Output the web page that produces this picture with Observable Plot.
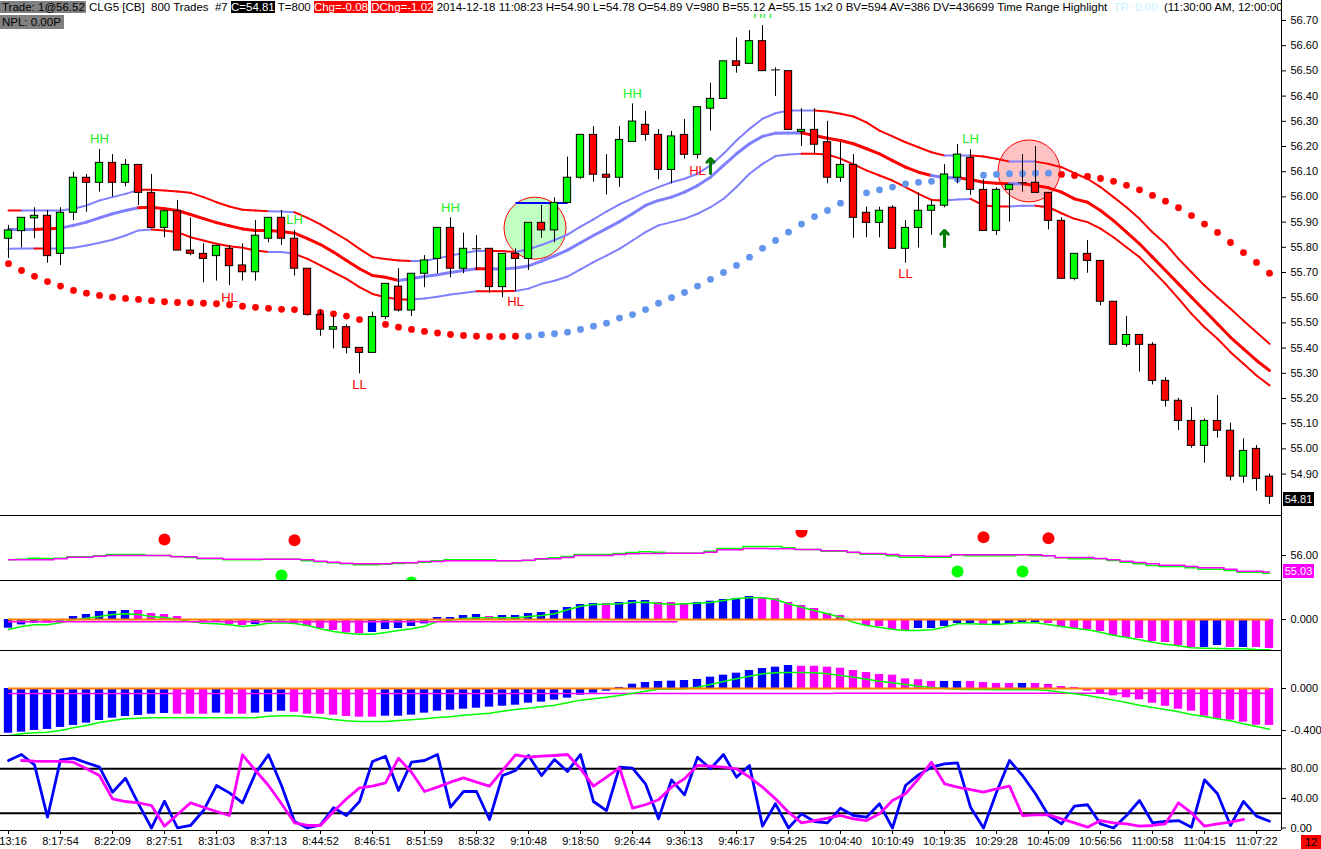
<!DOCTYPE html>
<html><head><meta charset="utf-8">
<script src="https://cdn.jsdelivr.net/npm/d3@7"></script>
<script src="https://cdn.jsdelivr.net/npm/@observablehq/plot@0.6"></script>
<style>
body{margin:0;background:#fff;font-family:"Liberation Sans",Arial,sans-serif;}
#wrap{position:relative;width:1321px;height:849px;overflow:hidden;background:#fff}
.hdr{position:absolute;left:0;top:0;width:1281px;height:14px;background:#fff;font-size:11.5px;line-height:14px;white-space:nowrap;overflow:hidden;color:#000}
.box{position:absolute;font-size:11px;line-height:14px;height:14px;text-align:center}
</style></head>
<body><div id="wrap"></div>
<script>
// ---------- candles ----------
const open  = [55.834,55.864,55.915,55.925,55.774,55.937,56.076,56.056,56.135,56.056,
 56.127,56.016,55.877,55.943,55.787,55.774,55.765,55.794,55.728,55.701,
 55.834,55.917,55.834,55.715,55.532,55.473,55.483,55.401,55.381,55.523,
 55.644,55.549,55.695,55.754,55.877,55.715,55.794,55.794,55.642,55.774,
 55.754,55.897,55.867,55.976,56.076,56.246,56.088,56.076,56.218,56.286,
 56.246,56.107,56.246,56.167,56.350,56.389,56.538,56.528,56.618,56.504,
 56.499,56.258,56.266,56.217,56.076,56.127,55.937,55.897,55.957,55.794,
 55.877,55.945,55.965,56.076,56.155,56.028,55.865,56.028,56.056,56.056,
 56.016,55.905,55.675,55.774,55.746,55.584,55.413,55.452,55.413,55.270,
 55.191,55.111,55.012,55.111,55.072,54.890,55.000,54.890];
const high  = [55.887,55.917,55.957,55.946,55.957,56.098,56.089,56.188,56.168,56.148,
 56.127,56.089,55.943,55.986,55.917,55.814,55.806,55.807,55.814,55.906,
 55.917,55.946,55.867,55.715,55.549,55.529,55.492,55.401,55.543,55.655,
 55.715,55.695,55.767,55.877,55.917,55.856,55.846,55.794,55.774,55.794,
 55.897,55.966,55.996,56.158,56.246,56.279,56.168,56.279,56.369,56.339,
 56.267,56.260,56.307,56.356,56.451,56.538,56.631,56.660,56.680,56.512,
 56.499,56.350,56.350,56.300,56.217,56.168,55.959,55.959,55.965,55.906,
 56.016,55.986,56.128,56.208,56.187,56.068,56.036,56.048,56.168,56.200,
 56.016,55.917,55.774,55.827,55.746,55.584,55.525,55.452,55.422,55.283,
 55.201,55.164,55.119,55.212,55.102,55.040,55.013,54.900];
const low   = [55.756,55.798,55.834,55.737,55.728,55.906,55.939,56.019,56.000,56.040,
 55.966,55.877,55.838,55.787,55.767,55.659,55.666,55.648,55.666,55.666,
 55.818,55.807,55.686,55.532,55.447,55.397,55.377,55.298,55.381,55.513,
 55.543,55.525,55.640,55.695,55.679,55.695,55.708,55.618,55.600,55.625,
 55.708,55.836,55.818,55.976,56.070,56.058,56.008,56.038,56.218,56.221,
 56.068,56.052,56.150,56.150,56.261,56.389,56.491,56.528,56.499,56.398,
 56.266,56.200,56.171,56.052,56.058,55.836,55.838,55.838,55.794,55.737,
 55.797,55.848,55.957,56.052,56.006,55.865,55.847,55.900,56.019,56.016,
 55.869,55.675,55.667,55.697,55.568,55.413,55.404,55.305,55.254,55.166,
 55.073,55.003,54.943,55.043,54.873,54.864,54.832,54.780];
const close = [55.867,55.917,55.925,55.765,55.937,56.076,56.056,56.135,56.056,56.127,
 56.016,55.877,55.943,55.787,55.774,55.754,55.806,55.725,55.701,55.846,
 55.917,55.834,55.715,55.532,55.473,55.483,55.401,55.381,55.523,55.655,
 55.549,55.695,55.748,55.877,55.715,55.794,55.794,55.642,55.774,55.754,
 55.897,55.867,55.976,56.076,56.246,56.088,56.076,56.226,56.299,56.246,
 56.107,56.240,56.167,56.356,56.389,56.538,56.520,56.618,56.499,56.504,
 56.266,56.266,56.207,56.076,56.127,55.917,55.897,55.945,55.794,55.877,
 55.945,55.965,56.089,56.168,56.028,55.865,56.028,56.048,56.056,56.016,
 55.905,55.675,55.774,55.746,55.584,55.413,55.452,55.413,55.270,55.191,
 55.111,55.012,55.111,55.072,54.890,54.992,54.881,54.810];

// ---------- envelope bands ----------
const bandUpper = [55.946,55.946,55.946,55.946,55.946,55.953,55.966,55.986,55.999,56.012,
 56.028,56.028,56.025,56.021,56.016,55.999,55.979,55.962,55.949,55.946,
 55.943,55.942,55.939,55.917,55.891,55.860,55.830,55.794,55.761,55.754,
 55.748,55.746,55.746,55.756,55.767,55.777,55.785,55.785,55.785,55.781,
 55.792,55.809,55.829,55.850,55.882,55.911,55.942,55.970,55.994,56.019,
 56.039,56.058,56.072,56.092,56.125,56.171,56.224,56.270,56.310,56.332,
 56.343,56.343,56.343,56.339,56.330,56.319,56.296,56.263,56.240,56.217,
 56.197,56.177,56.164,56.164,56.164,56.160,56.151,56.140,56.140,56.140,
 56.131,56.118,56.094,56.072,56.039,55.999,55.959,55.913,55.860,55.814,
 55.754,55.701,55.648,55.602,55.556,55.509,55.463,55.417];
const bandMiddle = [55.871,55.871,55.871,55.874,55.876,55.887,55.900,55.917,55.933,55.946,
 55.957,55.959,55.953,55.946,55.930,55.914,55.898,55.885,55.873,55.867,
 55.867,55.863,55.856,55.834,55.811,55.781,55.748,55.715,55.688,55.681,
 55.668,55.676,55.684,55.691,55.700,55.708,55.715,55.715,55.714,55.718,
 55.726,55.745,55.766,55.789,55.818,55.847,55.874,55.902,55.933,55.966,
 55.986,55.999,56.019,56.045,56.078,56.125,56.171,56.211,56.240,56.253,
 56.254,56.254,56.244,56.233,56.224,56.211,56.191,56.171,56.144,56.118,
 56.098,56.085,56.076,56.076,56.069,56.058,56.054,56.052,56.052,56.045,
 56.036,56.019,55.992,55.979,55.946,55.906,55.860,55.814,55.761,55.708,
 55.655,55.602,55.549,55.496,55.443,55.397,55.351,55.311];
const bandLower = [55.794,55.795,55.795,55.795,55.795,55.798,55.807,55.818,55.830,55.847,
 55.867,55.871,55.867,55.860,55.840,55.827,55.814,55.804,55.798,55.787,
 55.781,55.781,55.774,55.754,55.728,55.701,55.675,55.642,55.615,55.602,
 55.593,55.593,55.597,55.604,55.613,55.619,55.626,55.626,55.626,55.627,
 55.636,55.655,55.667,55.684,55.712,55.741,55.767,55.794,55.827,55.860,
 55.887,55.900,55.913,55.933,55.959,55.992,56.039,56.092,56.131,56.162,
 56.168,56.171,56.171,56.168,56.152,56.129,56.105,56.085,56.065,56.039,
 56.012,55.988,55.986,55.990,55.992,55.966,55.962,55.962,55.965,55.965,
 55.959,55.935,55.913,55.900,55.874,55.840,55.800,55.761,55.708,55.655,
 55.596,55.536,55.483,55.437,55.384,55.338,55.291,55.252];
const upperRuns  = [["r",1],["b",9],["r",10],["b",2],["r",9],["b",6],["r",2],["b",23],["r",10],["b",2],["r",3],["b",2],["r",18]];
const middleRuns = [["b",2],["r",2],["b",6],["r",20],["b",6],["r",1],["b",24],["r",10],["b",2],["r",4],["b",1],["r",19]];
const lowerRuns  = [["b",2],["r",1],["b",8],["r",9],["b",2],["r",9],["b",5],["r",3],["b",22],["r",11],["b",2],["r",3],["b",2],["r",18]];

// ---------- trailing stop dots ----------
const sarValues = [55.735,55.708,55.685,55.664,55.646,55.629,55.618,55.609,55.602,55.597,
 55.593,55.588,55.584,55.581,55.580,55.578,55.576,55.572,55.566,55.562,
 55.558,55.554,55.553,55.543,55.542,55.536,55.527,55.513,55.504,55.494,
 55.483,55.474,55.466,55.460,55.454,55.450,55.447,55.446,55.446,55.447,
 55.447,55.453,55.457,55.463,55.474,55.487,55.499,55.519,55.533,55.553,
 55.578,55.600,55.621,55.646,55.673,55.700,55.728,55.761,55.796,55.827,
 55.860,55.892,55.922,55.946,55.975,55.994,56.016,56.028,56.039,56.052,
 56.058,56.062,56.067,56.070,56.073,56.086,56.089,56.092,56.092,56.094,
 56.094,56.089,56.085,56.081,56.073,56.062,56.046,56.028,56.006,55.983,
 55.957,55.926,55.892,55.859,55.819,55.779,55.740,55.697];
const sarRuns = [["r",40],["b",41],["r",17]];

// ---------- annotations ----------
const swingIdx   = [7, 17, 22, 27, 34, 39, 48, 53, 58, 69, 74];
const swingPrice = [56.232,55.601,55.910,55.256,55.956,55.582,56.410,56.105,56.727,55.696,56.232];
const swingText  = ["HH","HL","LH","LL","HH","HL","HH","HL","HH","LL","LH"];
const arrowIdx = [54, 72];
const arrowFrom = [56.093, 55.803];
const arrowTo = [56.152, 55.867];
const zoneIdx = [40.5, 78.5];
const zonePrice = [55.876, 56.103];
const zoneFill = ["#c2ffc2", "#ffc2c2"];
const breakFrom = [39], breakTo = [43], breakPrice = [55.976];
const priceTicks = [54.9,55.0,55.1,55.2,55.3,55.4,55.5,55.6,55.7,55.8,55.9,56.0,56.1,56.2,56.3,56.4,56.5,56.6,56.7];

// ---------- panel 2 ----------
const p2Magenta = [55.747,55.747,55.747,55.747,55.806,55.900,55.900,55.959,56.000,56.000,
 56.000,56.000,56.000,55.924,55.924,55.841,55.841,55.782,55.782,55.782,
 55.782,55.782,55.782,55.747,55.665,55.606,55.547,55.512,55.512,55.512,
 55.571,55.571,55.647,55.647,55.688,55.688,55.688,55.688,55.688,55.688,
 55.723,55.806,55.806,55.882,56.000,56.000,56.000,56.059,56.100,56.118,
 56.118,56.135,56.135,56.135,56.194,56.335,56.335,56.412,56.412,56.394,
 56.394,56.353,56.353,56.276,56.276,56.194,56.118,56.118,56.059,55.982,
 55.982,55.959,55.959,56.041,56.041,56.041,56.041,56.041,56.041,56.041,
 55.982,55.882,55.882,55.882,55.823,55.747,55.665,55.588,55.512,55.429,
 55.429,55.353,55.276,55.276,55.194,55.076,55.076,55.030];
const p2Green = [55.747,55.782,55.841,55.823,55.841,55.924,55.924,55.982,56.059,56.059,
 56.059,56.000,56.000,55.941,55.882,55.806,55.806,55.747,55.747,55.747,
 55.782,55.782,55.782,55.688,55.629,55.571,55.512,55.453,55.453,55.488,
 55.529,55.571,55.606,55.688,55.747,55.747,55.747,55.747,55.688,55.688,
 55.706,55.782,55.865,55.941,56.059,56.059,56.059,56.118,56.176,56.218,
 56.194,56.135,56.135,56.135,56.253,56.412,56.412,56.529,56.529,56.529,
 56.453,56.353,56.353,56.253,56.253,56.176,56.076,56.076,55.982,55.900,
 55.900,55.900,55.900,56.041,55.982,55.982,55.982,55.982,56.041,55.982,
 55.982,55.865,55.806,55.806,55.806,55.706,55.606,55.512,55.412,55.353,
 55.353,55.276,55.194,55.194,55.118,55.018,55.018,54.959];
const p2RedIdx = [12, 22, 61, 75, 80];
const p2RedVal = [56.941, 56.900, 57.394, 57.076, 57.018];
const p2GreenIdx = [21, 31, 73, 78];
const p2GreenVal = [54.824, 54.412, 55.059, 55.059];

// ---------- panel 3 ----------
const p3Hist = [-0.0435,-0.027,-0.018,-0.018,-0.008,0.015,0.025,0.04,0.04,0.045,
 0.045,0.03,0.025,0.015,-0.003,-0.013,-0.013,-0.025,-0.03,-0.025,
 -0.013,-0.008,-0.022,-0.035,-0.045,-0.055,-0.067,-0.072,-0.065,-0.05,
 -0.045,-0.035,-0.022,0.01,0.01,0.02,0.025,0.015,0.02,0.02,
 0.03,0.035,0.045,0.06,0.075,0.08,0.08,0.085,0.095,0.095,
 0.085,0.085,0.08,0.085,0.0915,0.1,0.105,0.115,0.1085,0.1035,
 0.085,0.07,0.055,0.03,0.02,-0.002,-0.03,-0.035,-0.05,-0.055,
 -0.045,-0.045,-0.035,-0.02,-0.02,-0.03,-0.025,-0.02,-0.015,-0.015,
 -0.02,-0.04,-0.045,-0.05,-0.06,-0.08,-0.09,-0.095,-0.11,-0.115,
 -0.13,-0.14,-0.14,-0.13,-0.14,-0.14,-0.14,-0.145];
const p3Colors = "bbbmbbbbbbmmmmmmmmmbbbmmmmmmbbbbbbbbbmbbbbbbbbmbbbmmmbbbbbmmmmmmmmmmmmbbbbbmbbbbmmmmmmmmmmmmbbmbmm";
const p3Line = [-0.05,-0.035,-0.0265,-0.0265,-0.0165,-0.0015,0.0065,0.015,0.025,0.0285,
 0.025,0.015,0.01,0.0015,-0.01,-0.0185,-0.0215,-0.0265,-0.035,-0.0285,
 -0.0185,-0.0165,-0.02,-0.03,-0.0465,-0.06,-0.0685,-0.0735,-0.0735,-0.065,
 -0.055,-0.0465,-0.0335,-0.01,-0.005,0.005,0.0085,0.0085,0.0085,0.0085,
 0.015,0.02,0.0285,0.0485,0.0665,0.075,0.0765,0.0785,0.085,0.0865,
 0.08,0.075,0.0785,0.0815,0.085,0.095,0.105,0.1085,0.1085,0.1,
 0.0785,0.0615,0.045,0.0285,0.0115,-0.0135,-0.03,-0.0385,-0.0485,-0.055,
 -0.055,-0.0515,-0.0385,-0.0215,-0.0215,-0.0235,-0.025,-0.02,-0.015,-0.0165,
 -0.025,-0.035,-0.0435,-0.0515,-0.0635,-0.0785,-0.09,-0.1015,-0.1135,-0.1235,
 -0.1315,-0.1415,-0.1435,-0.145,-0.1465,-0.1465,-0.15,-0.1515];
const p3SigFrom = [0], p3SigTo = [51.5], p3SigVal = [-0.011];

// ---------- panel 4 ----------
const p4Hist = [-0.426,-0.416,-0.4,-0.39,-0.371,-0.352,-0.33,-0.305,-0.283,-0.267,
 -0.257,-0.245,-0.238,-0.245,-0.245,-0.245,-0.235,-0.245,-0.245,-0.235,
 -0.226,-0.216,-0.226,-0.245,-0.245,-0.254,-0.267,-0.273,-0.273,-0.264,
 -0.264,-0.254,-0.235,-0.216,-0.207,-0.197,-0.188,-0.178,-0.169,-0.159,
 -0.14,-0.13,-0.111,-0.092,-0.064,-0.045,-0.026,0.01,0.041,0.057,
 0.067,0.07,0.076,0.086,0.108,0.127,0.146,0.171,0.19,0.203,
 0.219,0.212,0.212,0.203,0.193,0.171,0.152,0.133,0.127,0.092,
 0.083,0.067,0.067,0.067,0.067,0.057,0.048,0.048,0.048,0.048,
 0.038,0.019,0.01,-0.026,-0.05,-0.07,-0.089,-0.108,-0.14,-0.169,
 -0.197,-0.216,-0.264,-0.292,-0.302,-0.321,-0.35,-0.352];
const p4Runs = [["b",13],["m",3],["b",1],["m",2],["b",3],["m",7],["b",32],["m",11],["b",2],["m",4],["b",1],["m",19]];
const p4Line = [-0.45,-0.431,-0.422,-0.416,-0.4,-0.374,-0.352,-0.324,-0.305,-0.289,
 -0.283,-0.279,-0.279,-0.279,-0.279,-0.279,-0.279,-0.279,-0.279,-0.279,
 -0.264,-0.26,-0.26,-0.27,-0.279,-0.295,-0.308,-0.314,-0.314,-0.314,
 -0.305,-0.298,-0.289,-0.276,-0.27,-0.254,-0.245,-0.235,-0.216,-0.2,
 -0.188,-0.174,-0.159,-0.136,-0.111,-0.098,-0.083,-0.067,-0.045,-0.026,
 -0.007,-0.007,-0.003,0.012,0.038,0.067,0.092,0.117,0.14,0.15,
 0.152,0.152,0.15,0.14,0.124,0.108,0.089,0.07,0.054,0.038,
 0.022,0.01,0,-0.007,-0.01,-0.01,-0.012,-0.012,-0.012,-0.012,
 -0.019,-0.035,-0.05,-0.067,-0.089,-0.111,-0.133,-0.159,-0.181,-0.2,
 -0.222,-0.248,-0.267,-0.289,-0.308,-0.336,-0.362,-0.388];
const p4SigFrom = [0, 63.5], p4SigTo = [63.5, 97], p4SigVal = [-0.048, -0.045];

// ---------- panel 5 (stochastic) ----------
const stochK = [91.2,99.3,85.4,14.6,92.2,94.4,88.1,82.2,48.4,67.3,
 32.7,0,36.2,0,3.4,23.6,57.4,47.5,34,74.1,
 98.9,57.4,8.8,0,4.3,27.3,16.9,35.8,89.9,97,
 50.7,88.9,91.2,99.3,28.1,49.3,49.3,11.5,70.9,77.7,
 98,70.9,92.6,76.4,99.3,35.8,23.6,82.2,80.8,59.7,
 12.4,65.1,44.8,95.7,80,99.3,68.7,84.5,2.5,32.7,
 0,19.1,8.8,7,26.8,16.9,14.6,32.7,0,57.4,
 71.8,82.2,86.7,88.1,28.1,0,48.4,91.2,70.9,46.2,
 16.9,5.6,29.5,31.4,5.6,0,16.9,37.2,7,8.8,
 10.1,1.1,65.1,46.2,3.4,35.8,16,9.2];
const stochD = [null,91.2,90.3,89.9,89.9,88.9,80,70.9,39.4,35.8,
 34,30.4,2.5,18.2,34,28.1,22.3,16.9,98.9,77.7,
 57.4,32.7,7,3.4,3.4,22.3,39.4,54.3,56.5,61,
 94.4,75.4,49.3,55.2,61.9,67.8,61.9,56.5,77.7,98.9,
 95.7,97,98,99.3,80,56.5,68.7,81.4,26.8,31.4,
 38.1,55.2,66.5,84.5,83.5,82.2,80,68.7,55.2,39.4,
 21.4,7,10.1,13.2,16.9,12.4,10.1,19.1,37.2,46.2,
 66.5,88.9,59.7,55.2,52,48.4,53,56.5,16.9,17.8,
 17.8,12.4,7,1.1,10.1,7,5.6,2.5,3.4,5.6,
 34,20.5,2.5,5.6,7.8,11.5,null,null];
const stochLevels = [80, 20];
const stochTicks = [80, 40, 0];
const timeLabels = ["8:13:16","8:17:54","8:22:09","8:27:51","8:31:03","8:37:13","8:44:52","8:46:51","8:51:59","8:58:32","9:10:48","9:18:50","9:26:44","9:36:13","9:46:17","9:54:25","10:04:40","10:10:49","10:19:35","10:29:28","10:45:09","10:56:56","11:00:58","11:04:15","11:07:22"];

// ---------- helpers ----------
const expand = runs => runs.flatMap(([c, n]) => Array.from({length: n}, () => c));
const BAND = {b: "#8080ff", r: "#ff0000"};
const HIST = {b: "#0000ff", m: "#ff00ff"};
const segs = (vals, cols) => vals.slice(0, -1).map((v, k) => ({x1: k, x2: k + 1, y1: v, y2: vals[k + 1], c: BAND[cols[k]]}));
const idx = close.map((_, i) => i);
const candles = idx.map(i => ({i, o: open[i], h: high[i], l: low[i], c: close[i]}));
const X = {domain: [0, 97], range: [8, 1269], axis: null, label: null};
const STYLE = "background:transparent;font-family:'Liberation Sans',Arial,sans-serif;font-size:11px;overflow:visible;color:#000";
const wrap = document.getElementById("wrap");
function place(svg, top) {
  const d = document.createElement("div");
  d.style.cssText = `position:absolute;left:0;top:${top}px;width:1321px;`;
  d.appendChild(svg); wrap.appendChild(d);
}
const base = {width: 1321, marginLeft: 0, marginRight: 40, x: X, color: {type: "identity"}, style: STYLE};
const yAxis = (ticks, fmt) => Plot.axisY({anchor: "right", ticks, tickFormat: fmt, tickSize: 4, fontSize: 11, label: null});

// ---------- main price panel ----------
const sarCols = expand(sarRuns);
place(Plot.plot({
  ...base, height: 515, marginTop: 0, marginBottom: 0,
  y: {domain: [54.7, 56.7], range: [524, 20], axis: null, label: null},
  marks: [
    Plot.dot(zoneIdx.map((x, k) => ({x, p: zonePrice[k], f: zoneFill[k]})), {x: "x", y: "p", r: 31, fill: "f", stroke: "#ff0000", strokeWidth: 1}),
    Plot.link(segs(bandUpper, expand(upperRuns)), {x1: "x1", x2: "x2", y1: "y1", y2: "y2", stroke: "c", strokeWidth: 2, strokeLinecap: "round"}),
    Plot.link(segs(bandLower, expand(lowerRuns)), {x1: "x1", x2: "x2", y1: "y1", y2: "y2", stroke: "c", strokeWidth: 2, strokeLinecap: "round"}),
    Plot.link(segs(bandMiddle, expand(middleRuns)), {x1: "x1", x2: "x2", y1: "y1", y2: "y2", stroke: "c", strokeWidth: 3, strokeLinecap: "round"}),
    Plot.dot(idx, {x: i => i, y: i => sarValues[i], r: 3.4, fill: i => sarCols[i] === "r" ? "#ff0000" : "#6495ed"}),
    Plot.link(breakFrom.map((f, k) => ({f, t: breakTo[k], p: breakPrice[k]})), {x1: "f", x2: "t", y1: "p", y2: "p", stroke: "#0000ff", strokeWidth: 2}),
    Plot.ruleX(candles, {x: "i", y1: "l", y2: "h", stroke: "#000", strokeWidth: 1}),
    Plot.rect(candles.filter(d => d.o !== d.c), {x1: d => d.i - 0.28, x2: d => d.i + 0.28, y1: "o", y2: "c", fill: d => d.c > d.o ? "#00ff00" : "#ff0000", stroke: "#000", strokeWidth: 1}),
    Plot.link(candles.filter(d => d.o === d.c), {x1: d => d.i - 0.35, x2: d => d.i + 0.35, y1: "o", y2: "o", stroke: "#000", strokeWidth: 1}),
    Plot.arrow(arrowIdx.map((x, k) => ({x, a: arrowFrom[k], b: arrowTo[k]})), {x1: "x", x2: "x", y1: "a", y2: "b", stroke: "#007a00", strokeWidth: 3, headLength: 8, headAngle: 90}),
    Plot.text(swingIdx.map((x, k) => ({x, p: swingPrice[k], t: swingText[k]})), {x: "x", y: "p", text: "t", fontSize: 13, fill: d => d.t.endsWith("H") ? "#22f022" : "#ff0000"}),
    yAxis(priceTicks, d => d.toFixed(2))
  ]
}), 0);

// ---------- panel 2 ----------
place(Plot.plot({
  ...base, height: 65, marginTop: 15, marginBottom: 0,
  y: {domain: [54.529, 58.353], range: [65, 0], axis: null, label: null},
  marks: [
    Plot.line(idx, {x: i => i, y: i => p2Green[i], curve: "step", stroke: "#00ff00", strokeWidth: 1.5}),
    Plot.line(idx, {x: i => i, y: i => p2Magenta[i], curve: "step", stroke: "#ff00ff", strokeWidth: 1.5}),
    Plot.dot(p2RedIdx.map((x, k) => ({x, v: p2RedVal[k]})), {x: "x", y: "v", r: 6, fill: "#ff0000", clip: true}),
    Plot.dot(p2GreenIdx.map((x, k) => ({x, v: p2GreenVal[k]})), {x: "x", y: "v", r: 6, fill: "#00ff00", clip: true}),
    yAxis([56], d => d.toFixed(2))
  ]
}), 515);

// ---------- panel 3 ----------
place(Plot.plot({
  ...base, height: 70, marginTop: 0, marginBottom: 0,
  y: {domain: [-0.155, 0.195], range: [70, 0], axis: null, label: null},
  marks: [
    Plot.rect(idx, {x1: i => i - 0.32, x2: i => i + 0.32, y1: 0, y2: i => p3Hist[i], fill: i => HIST[p3Colors[i]]}),
    Plot.line(idx, {x: i => i, y: i => p3Line[i], stroke: "#00ff00", strokeWidth: 1.5}),
    Plot.ruleY([0], {x1: 0, x2: 97, stroke: "#ff8000", strokeWidth: 2}),
    Plot.ruleY(p3SigVal, {y: d => d, x1: (d, k) => p3SigFrom[k], x2: (d, k) => p3SigTo[k], stroke: "#ff00ff", strokeWidth: 1.5}),
    yAxis([0], d => d.toFixed(3))
  ]
}), 580);

// ---------- panel 4 ----------
const p4Cols = expand(p4Runs);
place(Plot.plot({
  ...base, height: 85, marginTop: 0, marginBottom: 0,
  y: {domain: [-0.448, 0.362], range: [85, 0], axis: null, label: null},
  marks: [
    Plot.rect(idx, {x1: i => i - 0.32, x2: i => i + 0.32, y1: 0, y2: i => p4Hist[i], fill: i => HIST[p4Cols[i]]}),
    Plot.ruleY(p4SigVal, {y: d => d, x1: (d, k) => p4SigFrom[k], x2: (d, k) => p4SigTo[k], stroke: "#ff00ff", strokeWidth: 1.5}),
    Plot.line(idx, {x: i => i, y: i => p4Line[i], stroke: "#00ff00", strokeWidth: 1.5, clip: true}),
    Plot.ruleY([0], {x1: 0, x2: 97, stroke: "#ff8000", strokeWidth: 2}),
    yAxis([0, -0.4], d => d.toFixed(3))
  ]
}), 650);

// ---------- panel 5 ----------
place(Plot.plot({
  ...base, height: 114, marginTop: 0, marginBottom: 19,
  y: {domain: [-3.38, 125], range: [95, 0], axis: null, label: null},
  marks: [
    Plot.ruleY(stochLevels, {stroke: "#000", strokeWidth: 2}),
    Plot.line(idx, {x: i => i, y: i => stochK[i], stroke: "#0000ff", strokeWidth: 2.8}),
    Plot.line(idx, {x: i => i, y: i => stochD[i], stroke: "#ff00ff", strokeWidth: 2.8}),
    yAxis(stochTicks, d => d.toFixed(2)),
    Plot.axisX({ticks: timeLabels.map((_, k) => k * 4), tickFormat: d => timeLabels[d / 4], tickSize: 4, tickPadding: 3, fontSize: 11, label: null})
  ]
}), 735);

// ---------- decorations ----------
function addDiv(css, html) { const d = document.createElement("div"); d.style.cssText = css; if (html) d.innerHTML = html; wrap.appendChild(d); return d; }
[515, 580, 650, 735, 830].forEach(t => addDiv(`position:absolute;left:0;top:${t}px;width:1281px;height:1px;background:#000`));
addDiv("position:absolute;left:1281px;top:0;width:1px;height:830px;background:#000");
const hdr = addDiv("", "");
hdr.className = "hdr";
hdr.innerHTML = '<span style="background:#808080;padding:0 1px 0 2px">Trade: 1@56.52</span> CLG5 [CB]&nbsp; 800 Trades&nbsp; #7 <span style="background:#000;color:#fff">C=54.81</span> T=800 <span style="background:#ff0000;color:#fff">Chg=-0.08</span> <span style="background:#ff0000;color:#fff">DChg=-1.02</span> 2014-12-18 11:08:23 H=54.90 L=54.78 O=54.89 V=980 B=55.12 A=55.15 1x2 0 BV=594 AV=386 DV=436699 Time Range Highlight&nbsp; <span style="color:#c4f2ff">TR: 0.00</span>&nbsp; (11:30:00 AM, 12:00:00 AM)';
addDiv("position:absolute;left:0;top:15px;height:14px;line-height:14px;font-size:11.5px;background:#808080;padding:0 3px 0 2px", "NPL: 0.00P");
const last = addDiv("", close[close.length - 1].toFixed(2)); last.className = "box"; last.style.cssText += "left:1283px;top:492px;width:31px;background:#000;color:#fff";
const lastM = addDiv("", p2Magenta[p2Magenta.length - 1].toFixed(2)); lastM.className = "box"; lastM.style.cssText += "left:1283px;top:564px;width:31px;background:#ff00ff;color:#fff";
const tag = addDiv("", "12"); tag.className = "box"; tag.style.cssText += "left:1301px;top:835px;width:20px;background:#ff0000;color:#000";
</script></body></html>
